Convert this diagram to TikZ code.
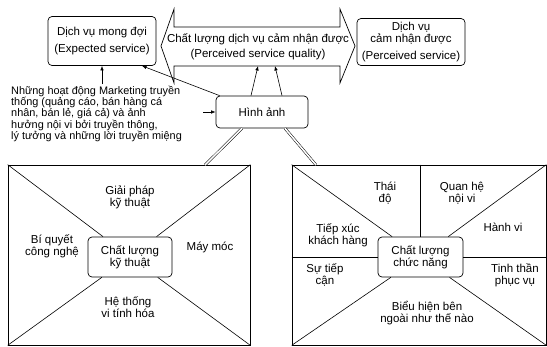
\documentclass[tikz,border=0pt]{standalone}
\usepackage{fontspec}
\setmainfont{Liberation Sans}
\usetikzlibrary{arrows.meta}
\begin{document}
\begin{tikzpicture}[x=1pt,y=-1pt,
  font=\fontsize{11.5}{12}\selectfont,
  box/.style={draw, rounded corners=4pt, line width=0.7pt, align=center, inner sep=1pt},
  frame/.style={draw, line width=0.7pt, inner sep=0pt},
  arr/.style={-{Latex[length=4.5pt,width=3.5pt]}, line width=0.6pt},
  dbl/.style={double, double distance=1.6pt, line width=0.5pt},
  lbl/.style={align=center, inner sep=0pt},
  thin/.style={line width=0.6pt}]
\fill[white] (0,0) rectangle (547,346);
\useasboundingbox (0,0) rectangle (547,346);

% top row
\node[box, minimum width=108pt, minimum height=49pt] (exp) at (102,41) {Dịch vụ mong đợi\\[5pt](Expected service)};
\node[box, minimum width=108pt, minimum height=47pt] (per) at (411,42) {Dịch vụ\\cảm nhận được\\[5pt](Perceived service)};
\draw[line width=0.7pt] (161,46) -- (174,9) -- (174,27) -- (340,27) -- (340,9) -- (355,46) -- (340,83) -- (340,66) -- (174,66) -- (174,83) -- cycle;
\node[lbl] (pq) at (258,47) {Chất lượng dịch vụ cảm nhận được\\[3pt](Perceived service quality)};
\coordinate (s1) at (258,66);
\coordinate (s2) at (275,66);

% image
\node[box, minimum width=92pt, minimum height=32pt] (img) at (262,112) {Hình ảnh};
\draw[arr] ([xshift=-11pt]img.north) -- (s1);
\draw[arr] ([xshift=20pt]img.north) -- (s2);
\draw[arr] ([xshift=4pt]img.north west) -- ([xshift=40pt]exp.south);

% marketing text
\node[align=left, anchor=north west, inner sep=0pt, font=\fontsize{10.9}{11.2}\selectfont] (mk) at (11,86)
 {Những hoạt động Marketing truyền\\thống (quảng cáo, bán hàng cá\\nhân, bán lẻ, giá cả) và ảnh\\hưởng nội vi bởi truyền thông,\\lý tưởng và những lời truyền miệng};
\coordinate (mkt) at (102,84);
\coordinate (mkr) at (203,112);
\draw[arr] (mkt) -- (exp.south -| mkt);
\draw[arr] (mkr) -- (img.west);

% left block
\node[frame, minimum width=242pt, minimum height=180pt] (L) at (129,255) {};
\node[box, minimum width=84pt, minimum height=40pt] (Lc) at (130,257) {Chất lượng\\kỹ thuật};
\draw[thin] (L.north west) -- (Lc);
\draw[thin] (L.north east) -- (Lc);
\draw[thin] (L.south west) -- (Lc);
\draw[thin] (L.south east) -- (Lc);
\node[lbl] (l1) at (130,197) {Giải pháp\\kỹ thuật};
\node[lbl] (l2) at (52,246) {Bí quyết\\công nghệ};
\node[lbl] (l3) at (210,247) {Máy móc};
\node[lbl] (l4) at (128,307) {Hệ thống\\vi tính hóa};

% right block
\node[frame, minimum width=254pt, minimum height=180pt] (R) at (419,255) {};
\node[box, minimum width=85pt, minimum height=40pt] (Rc) at (420.5,257) {Chất lượng\\chức năng};
\draw[thin] (R.north west) -- (Rc);
\draw[thin] (R.north east) -- (Rc);
\draw[thin] (R.south west) -- (Rc);
\draw[thin] (R.south east) -- (Rc);
\draw[thin] (Rc.north |- R.north) -- (Rc.north);
\draw[thin] (R.west |- Rc.west) -- (Rc.west);
\draw[thin] (Rc.east) -- (R.east |- Rc.east);
\node[lbl] (r1) at (385,193) {Thái\\độ};
\node[lbl] (r2) at (462,193) {Quan hệ\\nội vi};
\node[lbl] (r3) at (338,235) {Tiếp xúc\\khách hàng};
\node[lbl] (r4) at (503,227) {Hành vi};
\node[lbl] (r5) at (325,275) {Sự tiếp\\cận};
\node[lbl] (r6) at (515,275) {Tinh thần\\phục vụ};
\node[lbl] (r7) at (427,313) {Biểu hiện bên\\ngoài như thế nào};

% double connectors
\coordinate (Ltop) at (205,165);
\coordinate (Rtop) at (316,165);
\draw[dbl] ([xshift=-20pt]img.south) -- (Ltop);
\draw[dbl] ([xshift=23pt]img.south) -- (Rtop);
\end{tikzpicture}
\end{document}
